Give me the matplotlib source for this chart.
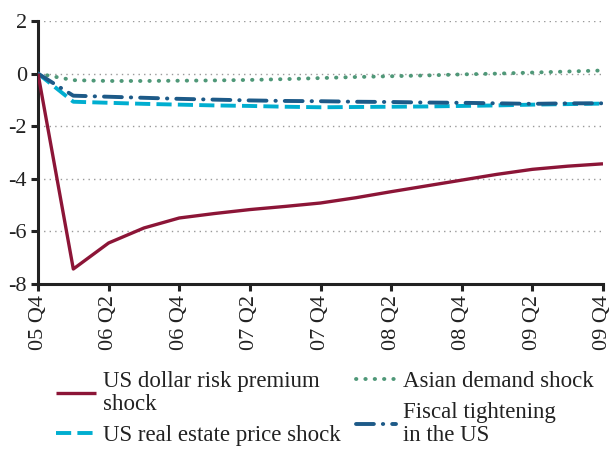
import matplotlib
matplotlib.use("Agg")
import matplotlib.pyplot as plt

plt.rcParams['font.family'] = ['Liberation Serif', 'DejaVu Serif']

quarters = ["05 Q4", "06 Q1", "06 Q2", "06 Q3", "06 Q4", "07 Q1", "07 Q2", "07 Q3", "07 Q4",
            "08 Q1", "08 Q2", "08 Q3", "08 Q4", "09 Q1", "09 Q2", "09 Q3", "09 Q4"]
usd_risk = [0.0, -7.43, -6.44, -5.87, -5.49, -5.32, -5.17, -5.05, -4.92,
            -4.72, -4.49, -4.27, -4.05, -3.83, -3.64, -3.52, -3.43]
asian = [0.0, -0.25, -0.28, -0.28, -0.27, -0.26, -0.24, -0.21, -0.17,
         -0.13, -0.10, -0.07, -0.03, 0.0, 0.04, 0.08, 0.12]
fiscal = [0.0, -0.84, -0.88, -0.92, -0.96, -0.99, -1.02, -1.04, -1.05,
          -1.07, -1.08, -1.10, -1.11, -1.13, -1.15, -1.13, -1.13]
real_estate = [0.0, -1.07, -1.11, -1.15, -1.18, -1.21, -1.23, -1.26, -1.28,
               -1.27, -1.26, -1.25, -1.23, -1.21, -1.18, -1.16, -1.14]
tick_labels = ["05 Q4", "06 Q2", "06 Q4", "07 Q2", "07 Q4", "08 Q2", "08 Q4", "09 Q2", "09 Q4"]
yticks = [2, 0, -2, -4, -6, -8]
legend_col1 = ["US dollar risk premium\nshock", "US real estate price shock"]
legend_col2 = ["Asian demand shock", "Fiscal tightening\nin the US"]

c_red = "#8c1537"
c_lblue = "#00aed0"
c_dblue = "#1d5a88"
c_green = "#4f9878"
c_text = "#222222"

fig = plt.figure(figsize=(6.14, 4.5), dpi=100)
ax = fig.add_axes([38/614, 1-284/450, (603-38)/614, (284-21)/450])

x = list(range(len(quarters)))
l_red, = ax.plot(x, usd_risk, color=c_red, lw=2.4, solid_capstyle='butt', zorder=5)
l_lb, = ax.plot(x, real_estate, color=c_lblue, lw=2.8, dashes=(3.9, 1.6), zorder=3)
l_gr, = ax.plot(x, asian, color=c_green, lw=2.8, dashes=(0.1, 2.3), dash_capstyle='round', zorder=4)
l_db, = ax.plot(x, fiscal, color=c_dblue, lw=2.8, dashes=(4.6, 2.3, 0.1, 2.3), dash_capstyle='round', zorder=4)

ax.set_xlim(0, len(quarters) - 1)
ax.set_ylim(-8, 2)
ax.set_yticks(yticks)
ax.set_yticklabels([str(v) for v in yticks])
tick_pos = [quarters.index(t) for t in tick_labels]
ax.set_xticks(tick_pos)
ax.set_xticklabels(tick_labels, rotation=90)

for v in yticks:
    if v != -8:
        ax.axhline(v, color='#999999', lw=1.0, dashes=(1, 3), zorder=1)

for s in ['top', 'right']:
    ax.spines[s].set_visible(False)
for s in ['left', 'bottom']:
    ax.spines[s].set_linewidth(2.2)
    ax.spines[s].set_color(c_text)
ax.tick_params(axis='both', direction='out', width=2.2, length=5, color=c_text,
               labelsize=16, labelcolor=c_text, pad=3)

common = dict(loc='upper left', frameon=False, fontsize=16.5, handlelength=1.75,
              handletextpad=0.28, labelspacing=0.42, borderaxespad=0, borderpad=0)
leg1 = fig.legend([l_red, l_lb], legend_col1, bbox_to_anchor=(56/614, 1-371/450), **common)
leg2 = fig.legend([l_gr, l_db], legend_col2, bbox_to_anchor=(356/614, 1-371/450), **common)
for leg in (leg1, leg2):
    for t in leg.get_texts():
        t.set_color(c_text)
        t.set_linespacing(1.12)

fig.savefig("out.png", dpi=100)
